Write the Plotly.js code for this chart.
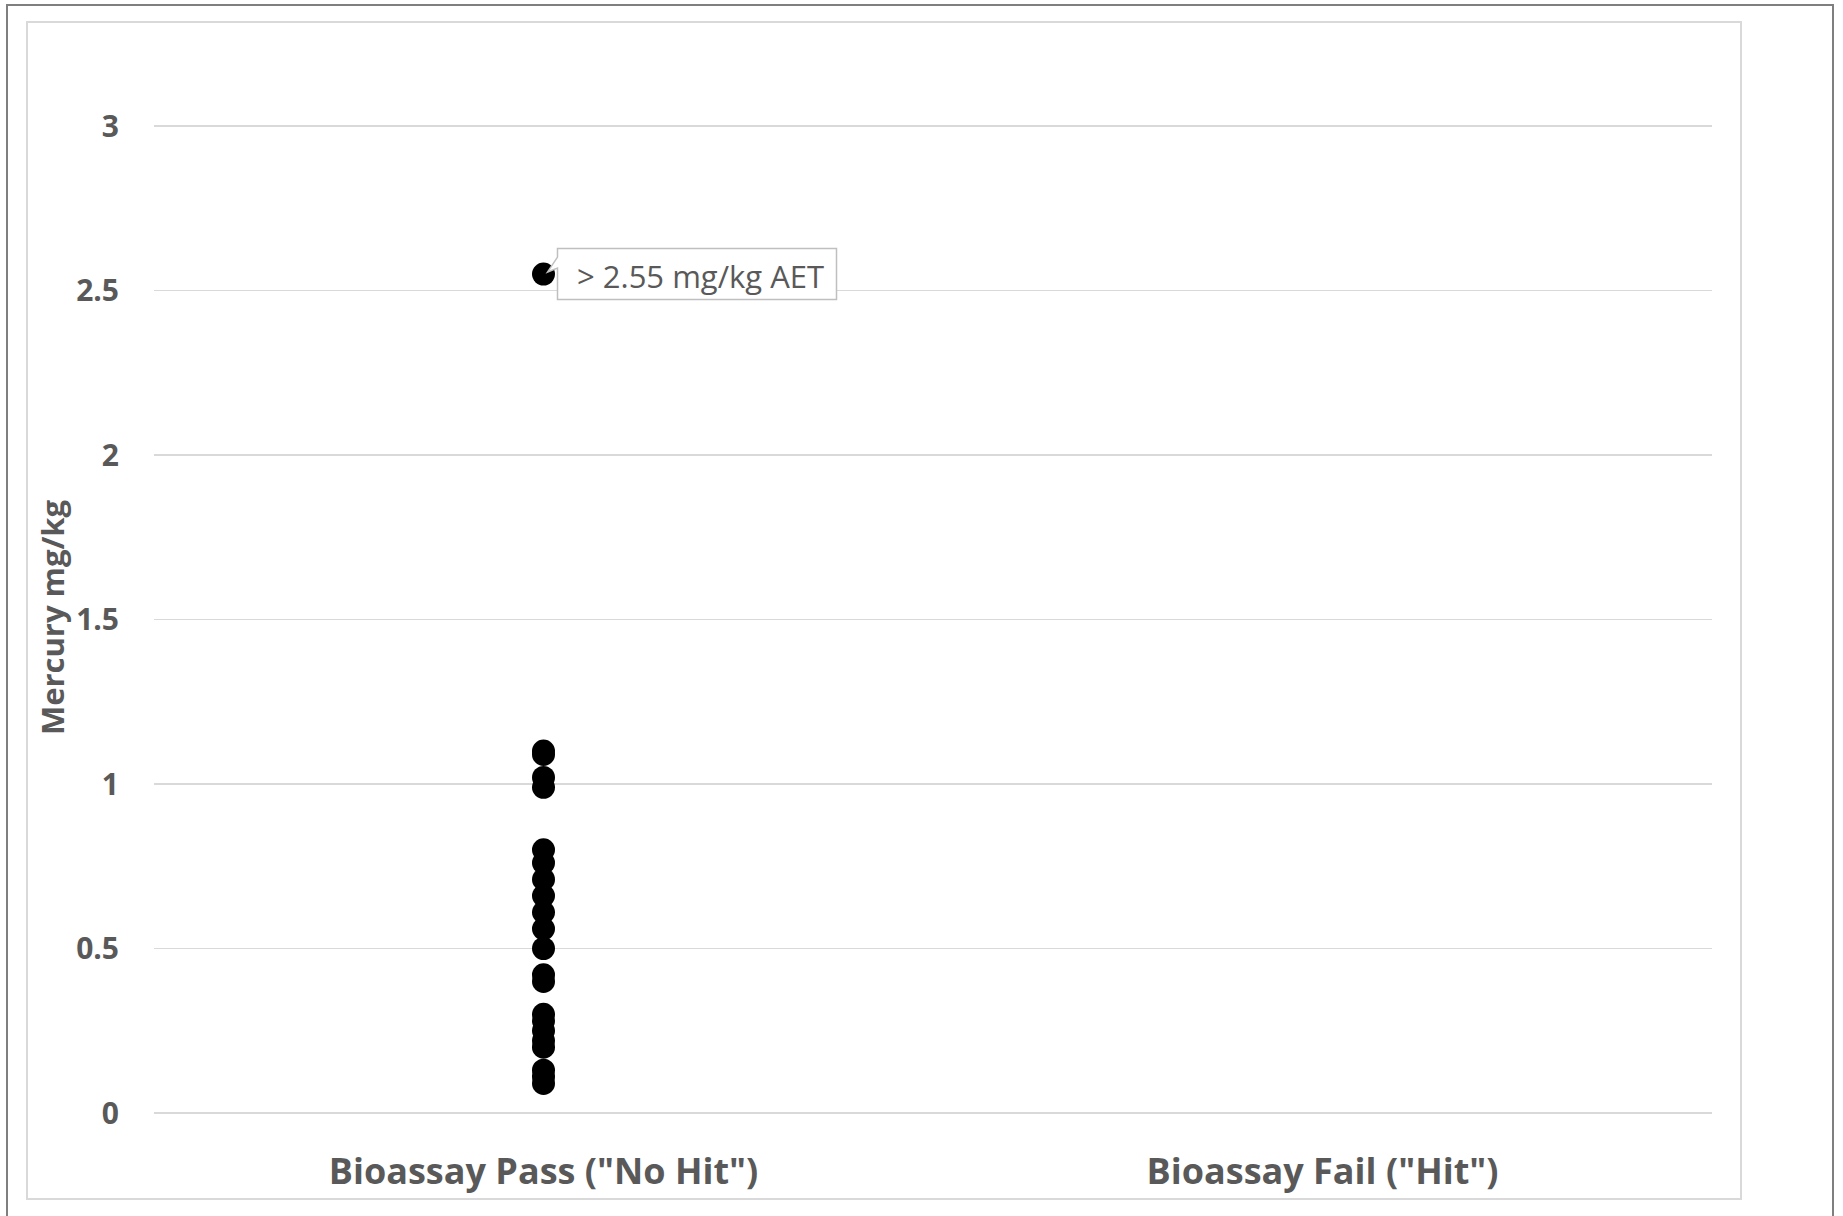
<!DOCTYPE html>
<html>
<head>
<meta charset="utf-8">
<script src="https://cdn.plot.ly/plotly-3.0.1.min.js"></script>
<style>
  html, body { margin: 0; padding: 0; background: #ffffff; overflow: hidden; }
  #outer { position: absolute; left: 6px; top: 4px; width: 1828px; height: 1230px; border: 2px solid #7f7f7f; box-sizing: border-box; }
  #inner { position: absolute; left: 26px; top: 21px; width: 1716px; height: 1179px; border: 2px solid #d9d9d9; box-sizing: border-box; }
  #chart { position: absolute; left: 0; top: 0; width: 1843px; height: 1216px; }
</style>
</head>
<body>
<div id="outer"></div>
<div id="inner"></div>
<div id="chart"></div>
<script>
// ---- data ----
var categories = ['Bioassay Pass ("No Hit")', 'Bioassay Fail ("Hit")'];
var passValues = [2.55, 1.10, 1.09, 1.02, 0.99, 0.80, 0.76, 0.71, 0.66, 0.61, 0.56, 0.50, 0.42, 0.40, 0.30, 0.28, 0.25, 0.22, 0.20, 0.13, 0.11, 0.09];
var failValues = [];
var yTickValues = [0, 0.5, 1, 1.5, 2, 2.5, 3];
var yTickLabels = ['0', '0.5', '1', '1.5', '2', '2.5', '3'];
var calloutText = '&gt; 2.55 mg/kg AET';
var outlierValue = passValues[0];

var passX = passValues.map(function () { return categories[0]; });
var failX = failValues.map(function () { return categories[1]; });

var traces = [
  { type: 'scatter', mode: 'markers', x: passX, y: passValues,
    marker: { color: '#000000', size: 23 }, cliponaxis: false, hoverinfo: 'y', showlegend: false },
  { type: 'scatter', mode: 'markers', x: failX, y: failValues,
    marker: { color: '#000000', size: 23 }, cliponaxis: false, hoverinfo: 'y', showlegend: false }
];

var layout = {
  width: 1843, height: 1216,
  margin: { l: 154, r: 131, t: 122, b: 103 },
  paper_bgcolor: 'rgba(0,0,0,0)',
  plot_bgcolor: 'rgba(0,0,0,0)',
  font: { family: '"Open Sans", "Noto Sans", sans-serif', color: '#595959' },
  showlegend: false,
  xaxis: {
    type: 'category',
    categoryorder: 'array',
    categoryarray: categories,
    tickvals: categories,
    ticktext: categories,
    range: [-0.5, 1.5],
    showgrid: false, zeroline: false, showline: false, ticks: '',
    ticklabelstandoff: 34,
    tickfont: { size: 36, color: '#595959', family: '"Open Sans", sans-serif', weight: 'bold' }
  },
  yaxis: {
    range: [0, 3.0122],
    tickvals: yTickValues, ticktext: yTickLabels,
    showgrid: true, gridcolor: '#d9d9d9', gridwidth: 1.5,
    zeroline: true, zerolinecolor: '#d9d9d9', zerolinewidth: 1.5,
    showline: false, ticks: '',
    ticklabelstandoff: 34,
    tickfont: { size: 30, color: '#595959', family: '"Open Sans", sans-serif', weight: 'bold' },
    title: { text: 'Mercury mg/kg', standoff: 2,
      font: { size: 31, color: '#595959', family: '"Open Sans", sans-serif', weight: 'bold' } }
  },
  shapes: [
    { type: 'path', layer: 'above',
      xref: 'x', yref: 'y', xsizemode: 'pixel', ysizemode: 'pixel',
      xanchor: categories[0], yanchor: outlierValue,
      path: 'M14,25.5 L293,25.5 L293,-25.5 L14,-25.5 L14,6 L4,2 L14,17 Z',
      fillcolor: '#ffffff', line: { color: '#bfbfbf', width: 1.5 } }
  ],
  annotations: [
    { x: categories[0], y: outlierValue, xref: 'x', yref: 'y',
      text: calloutText, showarrow: false, xanchor: 'left', yanchor: 'middle',
      xshift: 31, yshift: -2,
      font: { size: 31, color: '#595959', family: '"Open Sans", sans-serif' } }
  ]
};

Plotly.newPlot('chart', traces, layout, { displayModeBar: false, staticPlot: true });
</script>
</body>
</html>
